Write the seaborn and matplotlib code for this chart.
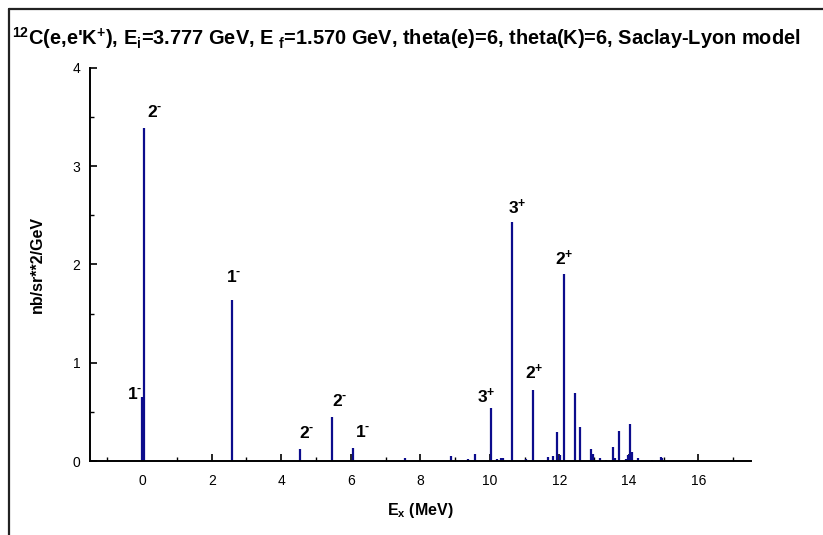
import matplotlib
matplotlib.use("Agg")
import matplotlib.pyplot as plt
import seaborn as sns
import numpy as np
import pandas as pd
from matplotlib.lines import Line2D
from matplotlib.ticker import MultipleLocator

# ---- data ----
energies = [0.00, 0.05, 2.57, 4.54, 5.47, 6.05, 7.55, 8.89, 9.38, 9.57,
            10.03, 10.20, 10.31, 10.39, 10.64, 11.03, 11.23, 11.66, 11.83,
            11.94, 12.01, 12.13, 12.44, 12.59, 12.92, 12.98, 13.18, 13.33,
            13.55, 13.60, 13.71, 13.93, 13.98, 14.03, 14.10, 14.27, 14.67,
            14.93, 14.96]
cross_sections = [0.65, 3.39, 1.64, 0.12, 0.45, 0.135, 0.03, 0.05, 0.02, 0.07,
                  0.54, 0.02, 0.03, 0.03, 2.43, 0.02, 0.72, 0.04, 0.05,
                  0.30, 0.06, 1.90, 0.69, 0.35, 0.12, 0.07, 0.03, 0.01,
                  0.14, 0.03, 0.31, 0.02, 0.06, 0.38, 0.09, 0.03, 0.01,
                  0.04, 0.03]
peak_spins = ["1", "2", "1", "2", "2", "1", "3", "3", "2", "2"]
peak_parities = ["-", "-", "-", "-", "-", "-", "+", "+", "+", "+"]
peak_label_index = [0, 1, 2, 3, 4, 5, 10, 14, 16, 21]
x_ticks = [0, 2, 4, 6, 8, 10, 12, 14, 16]
y_ticks = [0, 1, 2, 3, 4]

# layout offsets for labels (in MeV, nb units)
label_dx = [-0.22, 0.30, 0.06, 0.19, 0.21, 0.29, -0.13, 0.16, 0.05, 0.02]
label_dy = [0.03, 0.16, 0.23, 0.17, 0.165, 0.165, 0.12, 0.15, 0.18, 0.16]

df = pd.DataFrame({"Ex": energies, "xs": cross_sections})

sns.set_theme(style="ticks")
plt.rcParams['font.family'] = ['Liberation Sans', 'DejaVu Sans']
plt.rcParams['mathtext.fontset'] = 'custom'
plt.rcParams['mathtext.rm'] = 'Liberation Sans:bold'
plt.rcParams['mathtext.bf'] = 'Liberation Sans:bold'
plt.rcParams['mathtext.it'] = 'Liberation Sans:bold'
plt.rcParams['mathtext.default'] = 'rm'
plt.rcParams['text.color'] = 'black'
plt.rcParams['axes.labelcolor'] = 'black'

fig = plt.figure(figsize=(8.23, 5.35), dpi=100)
ax = fig.add_axes([0.1094, 0.1383, 0.8026, 0.7347])

ax.vlines(df["Ex"], 0, df["xs"], color="#0c0c8c", linewidth=1.6)

ax.set_xlim(-1.5, 17.5)
ax.set_ylim(0, 4)
ax.set_xticks(x_ticks)
ax.set_yticks(y_ticks)
ax.xaxis.set_minor_locator(MultipleLocator(1))
ax.yaxis.set_minor_locator(MultipleLocator(0.5))
ax.tick_params(axis='both', which='major', direction='in', length=5, width=1.2,
               labelsize=10, colors='black', pad=7)
ax.tick_params(axis='both', which='minor', direction='in', length=3, width=1.0, colors='black')
ax.tick_params(axis='x', pad=9)
sns.despine(ax=ax)
for s in ['left', 'bottom']:
    ax.spines[s].set_linewidth(1.4)
    ax.spines[s].set_color('black')

ax.set_xlabel(r"E$_{\mathbf{x}}$ (MeV)", fontsize=11.5, fontweight='bold', labelpad=10)
ax.set_ylabel("nb/sr**2/GeV", fontsize=11.5, fontweight='bold', labelpad=20)

for spin, par, idx, dx, dy in zip(peak_spins, peak_parities, peak_label_index, label_dx, label_dy):
    sup = r"\text{-}" if par == "-" else "+"
    ax.text(energies[idx] + dx, cross_sections[idx] + dy, f"${spin}^{{{sup}}}$",
            ha='center', va='center', fontsize=12.5, fontweight='bold')

fig.text(12 / 823, 1 - 38 / 535,
         r"$^{\mathbf{12}}$C(e,e'K$^{\mathbf{+}}$), E$_{\mathbf{i}}$=3.777 GeV, E $_{\mathbf{f}}$=1.570 GeV, "
         r"theta(e)=6, theta(K)=6, Saclay-Lyon model",
         ha='left', va='center', fontsize=14.4, fontweight='bold')

# figure frame (left & top edges)
fig.add_artist(Line2D([8.5 / 823, 8.5 / 823], [0, 1 - 9 / 535], transform=fig.transFigure,
                      color='#222222', linewidth=1.6))
fig.add_artist(Line2D([8.5 / 823, 1], [1 - 9 / 535, 1 - 9 / 535], transform=fig.transFigure,
                      color='#222222', linewidth=1.6))

fig.savefig("out.png", dpi=100)
